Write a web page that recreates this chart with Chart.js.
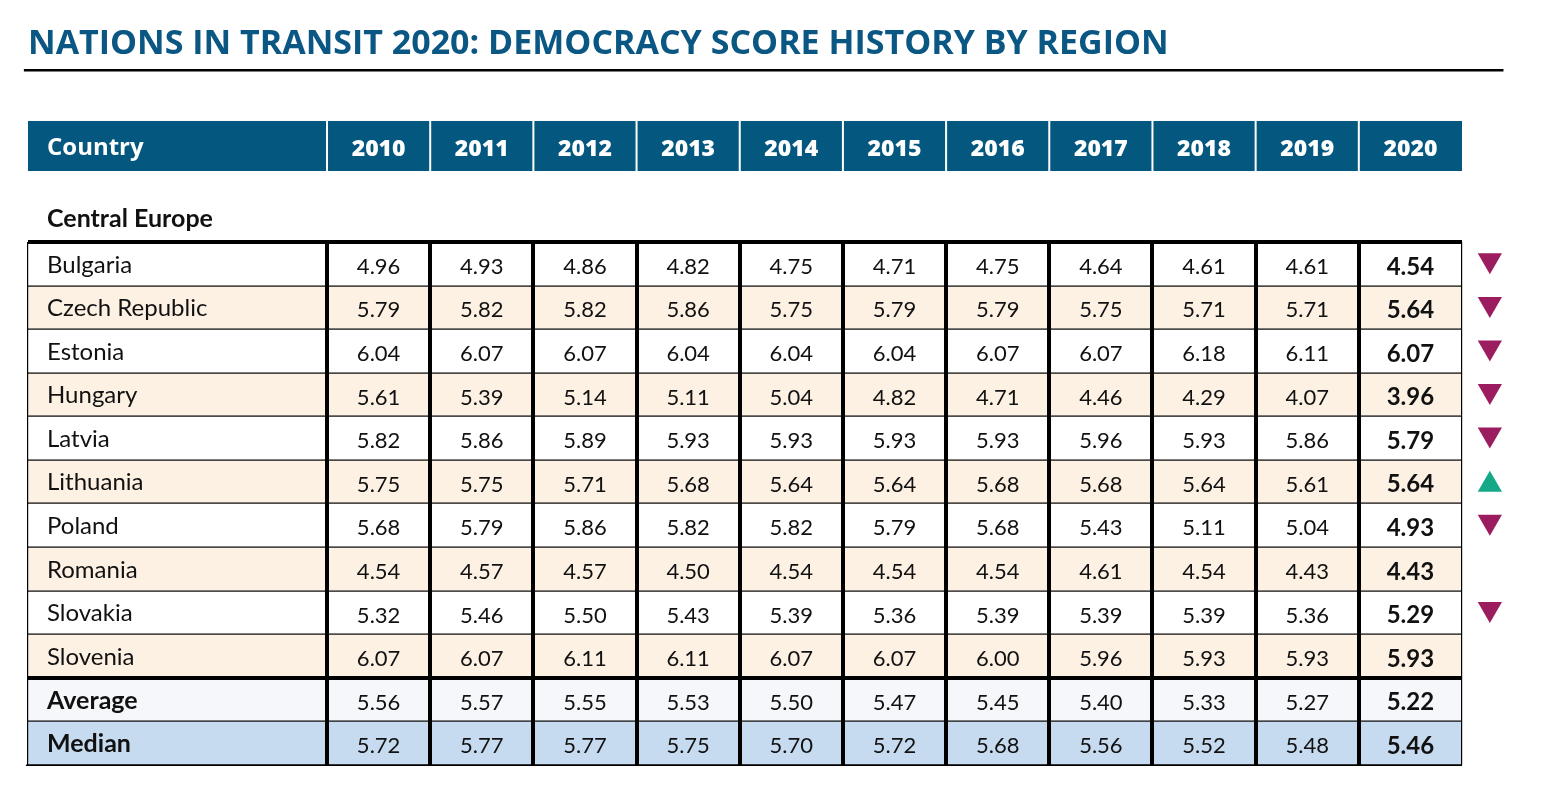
<!DOCTYPE html>
<html><head><meta charset="utf-8">
<script src="https://cdn.jsdelivr.net/npm/chart.js@4.4.1/dist/chart.umd.min.js"></script>
<style>html,body{margin:0;padding:0;background:#fff;overflow:hidden}#wrap{width:1542px;height:800px;position:relative}</style>
</head><body><div id="wrap"><canvas id="c"></canvas></div>
<script>
// ---------- DATA ----------
const titleText = "NATIONS IN TRANSIT 2020: DEMOCRACY SCORE HISTORY BY REGION";
const headerLabel = "Country";
const years = ["2010","2011","2012","2013","2014","2015","2016","2017","2018","2019","2020"];
const regionLabel = "Central Europe";
const countries = ["Bulgaria","Czech Republic","Estonia","Hungary","Latvia","Lithuania","Poland","Romania","Slovakia","Slovenia"];
const bulgaria  = [4.96,4.93,4.86,4.82,4.75,4.71,4.75,4.64,4.61,4.61,4.54];
const czech     = [5.79,5.82,5.82,5.86,5.75,5.79,5.79,5.75,5.71,5.71,5.64];
const estonia   = [6.04,6.07,6.07,6.04,6.04,6.04,6.07,6.07,6.18,6.11,6.07];
const hungary   = [5.61,5.39,5.14,5.11,5.04,4.82,4.71,4.46,4.29,4.07,3.96];
const latvia    = [5.82,5.86,5.89,5.93,5.93,5.93,5.93,5.96,5.93,5.86,5.79];
const lithuania = [5.75,5.75,5.71,5.68,5.64,5.64,5.68,5.68,5.64,5.61,5.64];
const poland    = [5.68,5.79,5.86,5.82,5.82,5.79,5.68,5.43,5.11,5.04,4.93];
const romania   = [4.54,4.57,4.57,4.50,4.54,4.54,4.54,4.61,4.54,4.43,4.43];
const slovakia  = [5.32,5.46,5.50,5.43,5.39,5.36,5.39,5.39,5.39,5.36,5.29];
const slovenia  = [6.07,6.07,6.11,6.11,6.07,6.07,6.00,5.96,5.93,5.93,5.93];
const summaryLabels = ["Average","Median"];
const average = [5.56,5.57,5.55,5.53,5.50,5.47,5.45,5.40,5.33,5.27,5.22];
const median  = [5.72,5.77,5.77,5.75,5.70,5.72,5.68,5.56,5.52,5.48,5.46];
const trend = ["down","down","down","down","down","up","down","none","down","none"];

// ---------- LAYOUT (scale units) ----------
const countryColW = 2.898;           // width of Country column in x units (year col = 1)
const arrowX = countryColW + years.length + 0.27;
const countryValues = [bulgaria,czech,estonia,hungary,latvia,lithuania,poland,romania,slovakia,slovenia];
const bodyRows = countries.map((c,i)=>({label:c, vals:countryValues[i], bold:false, bg: i%2===1 ? '#fdf1e4' : '#ffffff'}));
bodyRows.push({label:summaryLabels[0], vals:average, bold:true, bg:'#f5f7fb'});
bodyRows.push({label:summaryLabels[1], vals:median, bold:true, bg:'#c6dbef'});

const arrowData = [];
trend.forEach((t,i)=>{ if(t!=='none') arrowData.push({x:arrowX, y:i+0.5+(t==='up'?0.07:-0.08), t}); });

const tablePlugin = {
  id:'table',
  beforeDatasetsDraw(chart){
    const ctx = chart.ctx, xs = chart.scales.x, ys = chart.scales.y;
    const X = v=>xs.getPixelForValue(v), Y = v=>ys.getPixelForValue(v);
    const colL = j => j<0 ? 0 : countryColW + j;
    const colR = j => j<0 ? countryColW : countryColW + j + 1;
    const nCols = years.length;
    const xEnd = countryColW + nCols;
    ctx.save();
    // title
    ctx.fillStyle = '#0b5784';
    ctx.font = 'bold 34px "Open Sans"';
    ctx.textBaseline = 'alphabetic';
    ctx.textAlign = 'left';
    ctx.fillText(titleText, X(0), Y(-4.31));
    ctx.fillStyle = '#000';
    ctx.fillRect(X(-0.04), Math.round(Y(-3.95))-1, X(14.3)-X(-0.04), 2.5);
    // header
    const hTop = Y(-2.777), hBot = Y(-1.629);
    ctx.fillStyle = '#04577f';
    ctx.fillRect(X(0), hTop, X(xEnd)-X(0), hBot-hTop);
    ctx.fillStyle = '#ffffff';
    for(let j=0;j<nCols;j++){ ctx.fillRect(X(colL(j))-1, hTop, 2, hBot-hTop); }
    ctx.textBaseline = 'middle';
    ctx.font = 'bold 24px "Open Sans"';
    ctx.textAlign = 'left';
    ctx.fillText(headerLabel, X(0)+19, (hTop+hBot)/2+2);
    ctx.font = '800 23px "Open Sans"';
    ctx.textAlign = 'center';
    years.forEach((y,j)=>ctx.fillText(y, (X(colL(j))+X(colR(j)))/2, (hTop+hBot)/2+3));
    // region label
    ctx.fillStyle = '#111';
    ctx.font = 'bold 25px "Lato"';
    ctx.textAlign = 'left';
    ctx.fillText(regionLabel, X(0)+19, Y(-0.53));
    // row backgrounds
    bodyRows.forEach((r,i)=>{
      ctx.fillStyle = r.bg;
      ctx.fillRect(X(0), Y(i), X(xEnd)-X(0), Y(i+1)-Y(i));
    });
    // cell text
    bodyRows.forEach((r,i)=>{
      const cy = (Y(i)+Y(i+1))/2;
      ctx.fillStyle = '#111';
      ctx.textAlign = 'left';
      ctx.font = r.bold ? 'bold 25px "Lato"' : '24px "Lato"';
      ctx.fillText(r.label, X(0)+19, cy+1);
      r.vals.forEach((v,j)=>{
        const last = j===nCols-1;
        ctx.font = last ? 'bold 24px "Lato"' : '22px "Lato"';
        ctx.textAlign = 'center';
        ctx.fillText(v.toFixed(2), (X(colL(j))+X(colR(j)))/2, cy+3);
      });
    });
    // grid lines
    const top = Y(0), bot = Y(bodyRows.length);
    ctx.fillStyle = '#000';
    for(let i=1;i<=bodyRows.length;i++){ ctx.fillRect(X(0), Math.round(Y(i))-0.5, X(xEnd)-X(0), 1.2); }
    ctx.fillRect(X(-0.02), Math.round(bot)-0.5, X(xEnd)-X(-0.02), 1.5);
    ctx.fillRect(X(0), Math.round(top)-2, X(xEnd)-X(0), 4);
    ctx.fillRect(X(0), Math.round(Y(countries.length))-2, X(xEnd)-X(0), 4);
    ctx.fillRect(Math.round(X(0))-1, top, 1.2, bot-top);
    ctx.fillRect(Math.round(X(xEnd))-1, top, 1.2, bot-top);
    for(let j=0;j<nCols;j++){ ctx.fillRect(Math.round(X(colL(j)))-2, top, 4, bot-top); }
    ctx.restore();
  }
};

const U = 103.18, R = 43.58;
new Chart(document.getElementById('c'), {
  type:'scatter',
  data:{ datasets:[{
    data: arrowData,
    pointStyle:'triangle',
    pointRadius:14, pointHoverRadius:14,
    rotation: c => (c.raw && c.raw.t==='up') ? 0 : 180,
    backgroundColor: c => (c.raw && c.raw.t==='up') ? '#14a887' : '#9b1d5f',
    borderWidth:0
  }]},
  options:{
    responsive:true, maintainAspectRatio:false, animation:false, events:[],
    layout:{padding:0, autoPadding:false},
    plugins:{legend:{display:false}, tooltip:{enabled:false}, title:{display:false}},
    scales:{
      x:{type:'linear', display:false, min:-28/U, max:(1542-28)/U},
      y:{type:'linear', display:false, reverse:true, min:-242/R, max:(800-242)/R}
    }
  },
  plugins:[tablePlugin]
});
</script></body></html>
